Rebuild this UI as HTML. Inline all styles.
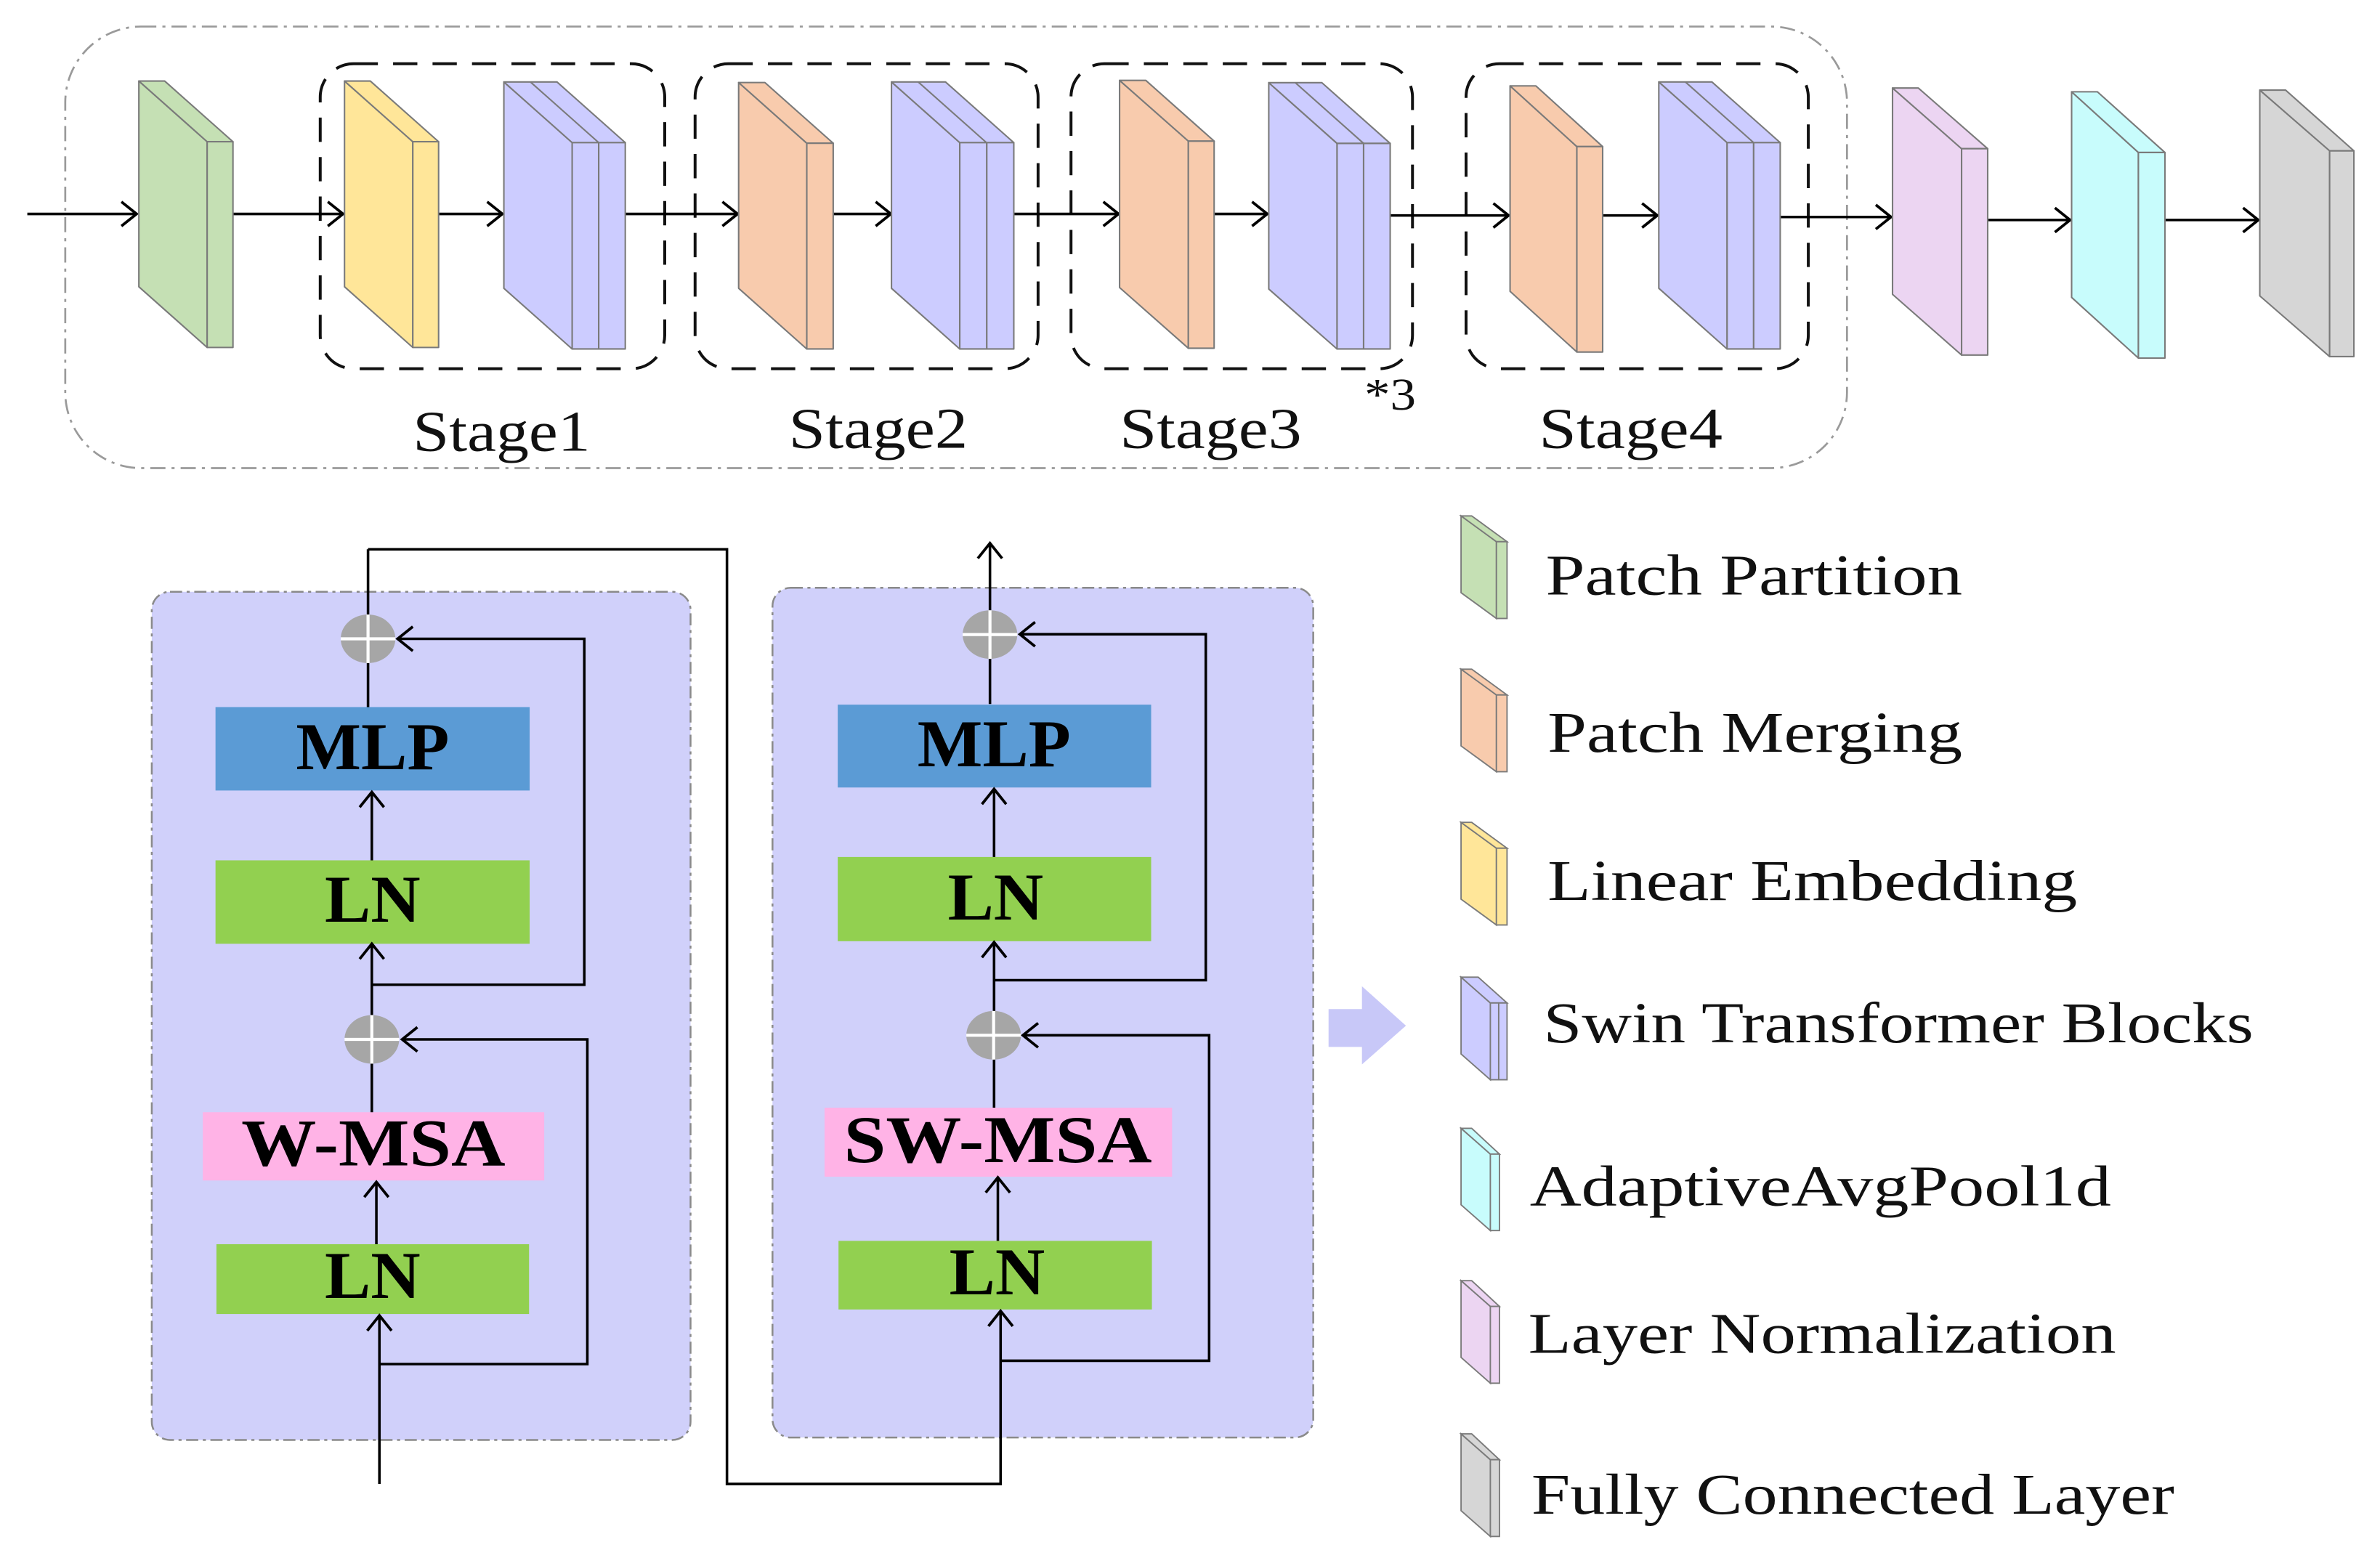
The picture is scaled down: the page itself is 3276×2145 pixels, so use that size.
<!DOCTYPE html>
<html><head><meta charset="utf-8"><style>
html,body{margin:0;padding:0;background:#fff;}
svg{display:block;}
</style></head><body>
<svg xmlns="http://www.w3.org/2000/svg" width="3276" height="2145" viewBox="0 0 1568.2 1026.8">
<defs>
<marker id="ah" markerUnits="userSpaceOnUse" markerWidth="24" markerHeight="24" refX="12" refY="12" orient="auto" viewBox="0 0 24 24">
<path d="M2,4 L12,12 L2,20" fill="none" stroke="#000" stroke-width="1.8"/>
</marker>
</defs>
<rect width="1568.2" height="1026.8" fill="#fff"/>

<rect x="43" y="17.5" width="1174" height="291" rx="50" fill="none" stroke="#9a9a9a" stroke-width="1.3" stroke-dasharray="10,4,2,4"/>
<g fill="none" stroke="#111" stroke-width="1.9" stroke-dasharray="16,10">
<rect x="211" y="42" width="227" height="201" rx="22"/>
<rect x="458" y="42" width="226" height="201" rx="22"/>
<rect x="705.7" y="42" width="225" height="201" rx="22"/>
<rect x="966" y="42" width="225.5" height="201" rx="22"/>
</g>

<g stroke="#000" stroke-width="1.7" fill="none" marker-end="url(#ah)">
<line x1="18" y1="141" x2="90" y2="141"/>
<line x1="153.5" y1="141" x2="226" y2="141"/>
<line x1="289" y1="141" x2="331" y2="141"/>
<line x1="412" y1="141" x2="486" y2="141"/>
<line x1="549" y1="141" x2="587" y2="141"/>
<line x1="668" y1="141" x2="737" y2="141"/>
<line x1="800" y1="141" x2="835" y2="141"/>
<line x1="916" y1="142" x2="994" y2="142"/>
<line x1="1056" y1="142" x2="1092" y2="142"/>
<line x1="1173" y1="143" x2="1246" y2="143"/>
<line x1="1310" y1="145" x2="1364" y2="145"/>
<line x1="1427" y1="145" x2="1488" y2="145"/>
</g>

<g stroke="#7a7a7a" stroke-width="1" stroke-linejoin="round">
<g fill="#c5e0b4">
<polygon points="91.5,53.4 136.5,93.4 136.5,229 91.5,189"/>
<polygon points="91.5,53.4 108.5,53.4 153.5,93.4 136.5,93.4"/>
<rect x="136.5" y="93.4" width="17" height="135.6"/>
</g>
<g fill="#ffe699">
<polygon points="227,53.4 272,93.4 272,229 227,189"/>
<polygon points="227,53.4 244,53.4 289,93.4 272,93.4"/>
<rect x="272" y="93.4" width="17" height="135.6"/>
</g>
<g fill="#ccccff">
<polygon points="332,54 377,94 377,230 332,190"/>
<polygon points="332,54 367,54 412,94 377,94"/>
<line x1="349.5" y1="54" x2="394.5" y2="94"/>
<rect x="377" y="94" width="17.5" height="136"/>
<rect x="394.5" y="94" width="17.5" height="136"/>
</g>
<g fill="#f8cbad">
<polygon points="486.7,54.4 531.6,94.4 531.6,230 486.7,190"/>
<polygon points="486.7,54.4 504,54.4 549,94.4 531.6,94.4"/>
<rect x="531.6" y="94.4" width="17.4" height="135.6"/>
</g>
<g fill="#ccccff">
<polygon points="587.4,54 632.4,94 632.4,230 587.4,190"/>
<polygon points="587.4,54 623,54 668,94 632.4,94"/>
<line x1="605" y1="54" x2="650" y2="94"/>
<rect x="632.4" y="94" width="17.8" height="136"/>
<rect x="650.2" y="94" width="17.8" height="136"/>
</g>
<g fill="#f8cbad">
<polygon points="737.7,53 783,93 783,229.5 737.7,189.5"/>
<polygon points="737.7,53 755,53 800,93 783,93"/>
<rect x="783" y="93" width="17" height="136.5"/>
</g>
<g fill="#ccccff">
<polygon points="836,54.5 881,94.5 881,230 836,190.5"/>
<polygon points="836,54.5 871,54.5 916,94.5 881,94.5"/>
<line x1="853.5" y1="54.5" x2="898.5" y2="94.5"/>
<rect x="881" y="94.5" width="17.5" height="135.5"/>
<rect x="898.5" y="94.5" width="17.5" height="135.5"/>
</g>
<g fill="#f8cbad">
<polygon points="995,56.6 1039,96.6 1039,232 995,192"/>
<polygon points="995,56.6 1012,56.6 1056,96.6 1039,96.6"/>
<rect x="1039" y="96.6" width="17" height="135.4"/>
</g>
<g fill="#ccccff">
<polygon points="1093,54 1138,94 1138,230 1093,190"/>
<polygon points="1093,54 1128,54 1173,94 1138,94"/>
<line x1="1110.5" y1="54" x2="1155.5" y2="94"/>
<rect x="1138" y="94" width="17.5" height="136"/>
<rect x="1155.5" y="94" width="17.5" height="136"/>
</g>
<g fill="#ecd5f2">
<polygon points="1247,58 1292.5,98 1292.5,234 1247,194"/>
<polygon points="1247,58 1264,58 1309.7,98 1292.5,98"/>
<rect x="1292.5" y="98" width="17.2" height="136"/>
</g>
<g fill="#c8fcfc">
<polygon points="1365,60.5 1409,100.5 1409,236 1365,196"/>
<polygon points="1365,60.5 1382,60.5 1426.5,100.5 1409,100.5"/>
<rect x="1409" y="100.5" width="17.5" height="135.5"/>
</g>
<g fill="#d6d6d6">
<polygon points="1489,59.4 1535,99.4 1535,235 1489,195"/>
<polygon points="1489,59.4 1506,59.4 1551,99.4 1535,99.4"/>
<rect x="1535" y="99.4" width="16" height="135.6"/>
</g>
</g>

<g font-family="'Liberation Serif', serif" font-size="38" fill="#111">
<text x="272" y="297" textLength="117" lengthAdjust="spacingAndGlyphs">Stage1</text>
<text x="519.7" y="295" textLength="118" lengthAdjust="spacingAndGlyphs">Stage2</text>
<text x="737.7" y="295" textLength="120" lengthAdjust="spacingAndGlyphs">Stage3</text>
<text x="1014" y="295" textLength="121" lengthAdjust="spacingAndGlyphs">Stage4</text>
<text x="899" y="270" font-size="30" textLength="34" lengthAdjust="spacingAndGlyphs">*3</text>
</g>

<rect x="100" y="390" width="355" height="559" rx="12" fill="#d0d0fa" stroke="#8a8a8a" stroke-width="1.2" stroke-dasharray="8,3,2,3"/>
<rect x="509" y="387.4" width="356.3" height="560" rx="12" fill="#d0d0fa" stroke="#8a8a8a" stroke-width="1.2" stroke-dasharray="8,3,2,3"/>

<rect x="142" y="466" width="207" height="55" fill="#5b9bd5"/>
<rect x="142" y="567" width="207" height="55" fill="#92d050"/>
<rect x="133.6" y="733" width="225" height="45" fill="#ffb3e6"/>
<rect x="142.6" y="820" width="206" height="46" fill="#92d050"/>
<rect x="552" y="464.4" width="206.5" height="54.6" fill="#5b9bd5"/>
<rect x="552" y="564.8" width="206.5" height="55.5" fill="#92d050"/>
<rect x="543.3" y="730" width="229" height="45.5" fill="#ffb3e6"/>
<rect x="552.5" y="817.8" width="206.5" height="45.2" fill="#92d050"/>

<g stroke="#000" stroke-width="1.7" fill="none">
<line x1="242.5" y1="362" x2="242.5" y2="466"/>
<polyline points="242.5,362 479,362 479,978 659.3,978 659.3,864" marker-end="url(#ah)"/>
<line x1="245" y1="567" x2="245" y2="522" marker-end="url(#ah)"/>
<line x1="245" y1="733" x2="245" y2="622" marker-end="url(#ah)"/>
<polyline points="245,649 385,649 385,421 262,421" marker-end="url(#ah)"/>
<line x1="248" y1="820" x2="248" y2="779" marker-end="url(#ah)"/>
<line x1="250" y1="978" x2="250" y2="867" marker-end="url(#ah)"/>
<polyline points="250,899 387,899 387,685 265,685" marker-end="url(#ah)"/>
<line x1="652.3" y1="464" x2="652.3" y2="358" marker-end="url(#ah)"/>
<line x1="655" y1="564.8" x2="655" y2="520" marker-end="url(#ah)"/>
<line x1="655" y1="730" x2="655" y2="621" marker-end="url(#ah)"/>
<polyline points="655,646 794.5,646 794.5,418 672,418" marker-end="url(#ah)"/>
<line x1="657.5" y1="817.8" x2="657.5" y2="776" marker-end="url(#ah)"/>
<polyline points="659.3,896.8 796.7,896.8 796.7,682.3 674,682.3" marker-end="url(#ah)"/>
</g>

<g>
<ellipse cx="242.5" cy="421" rx="18" ry="16" fill="#a6a6a6"/>
<line x1="224.5" y1="421" x2="260.5" y2="421" stroke="#fff" stroke-width="2"/>
<line x1="242.5" y1="405" x2="242.5" y2="437" stroke="#fff" stroke-width="2"/>
<ellipse cx="245" cy="685" rx="18" ry="16" fill="#a6a6a6"/>
<line x1="227" y1="685" x2="263" y2="685" stroke="#fff" stroke-width="2"/>
<line x1="245" y1="669" x2="245" y2="701" stroke="#fff" stroke-width="2"/>
<ellipse cx="652.3" cy="418.2" rx="18" ry="16" fill="#a6a6a6"/>
<line x1="634.3" y1="418.2" x2="670.3" y2="418.2" stroke="#fff" stroke-width="2"/>
<line x1="652.3" y1="402.2" x2="652.3" y2="434.2" stroke="#fff" stroke-width="2"/>
<ellipse cx="654.7" cy="682.3" rx="18" ry="16" fill="#a6a6a6"/>
<line x1="636.7" y1="682.3" x2="672.7" y2="682.3" stroke="#fff" stroke-width="2"/>
<line x1="654.7" y1="666.3" x2="654.7" y2="698.3" stroke="#fff" stroke-width="2"/>
</g>

<g font-family="'Liberation Serif', serif" font-weight="bold" font-size="44" fill="#000" text-anchor="middle">
<text x="245.5" y="507" textLength="101" lengthAdjust="spacingAndGlyphs">MLP</text>
<text x="245.5" y="607.5" textLength="63" lengthAdjust="spacingAndGlyphs">LN</text>
<text x="246" y="768" textLength="174" lengthAdjust="spacingAndGlyphs">W-MSA</text>
<text x="245.5" y="855.5" textLength="63" lengthAdjust="spacingAndGlyphs">LN</text>
<text x="655" y="505" textLength="101" lengthAdjust="spacingAndGlyphs">MLP</text>
<text x="656" y="606" textLength="63" lengthAdjust="spacingAndGlyphs">LN</text>
<text x="657.5" y="766" textLength="203" lengthAdjust="spacingAndGlyphs">SW-MSA</text>
<text x="657" y="853" textLength="63" lengthAdjust="spacingAndGlyphs">LN</text>
</g>

<polygon points="875.4,665 897.4,665 897.4,650 926.4,676 897.4,701.5 897.4,690 875.4,690" fill="#c8c8f8"/>

<g stroke="#7a7a7a" stroke-width="0.9">
<g fill="#c5e0b4"><polygon points="962.7,340 986,357 986,407.6 962.7,390.6"/><polygon points="962.7,340 969.7,340 993,357 986,357"/><rect x="986" y="357" width="7" height="50.6"/></g>
<g fill="#f8cbad"><polygon points="962.7,441 986,458 986,508.6 962.7,491.6"/><polygon points="962.7,441 969.7,441 993,458 986,458"/><rect x="986" y="458" width="7" height="50.6"/></g>
<g fill="#ffe699"><polygon points="962.7,542 986,559 986,609.6 962.7,592.6"/><polygon points="962.7,542 969.7,542 993,559 986,559"/><rect x="986" y="559" width="7" height="50.6"/></g>
<g fill="#ccccff"><polygon points="962.7,644 982,661 982,711.6 962.7,694.6"/><polygon points="962.7,644 974,644 993,661 982,661"/><rect x="982" y="661" width="5.5" height="50.6"/><rect x="987.5" y="661" width="5.5" height="50.6"/></g>
<g fill="#c8fcfc"><polygon points="962.7,743.6 982,760.6 982,811 962.7,794"/><polygon points="962.7,743.6 969.7,743.6 988,760.6 982,760.6"/><rect x="982" y="760.6" width="6" height="50.4"/></g>
<g fill="#ecd5f2"><polygon points="962.7,844 982,861 982,911.6 962.7,894.6"/><polygon points="962.7,844 969.7,844 988,861 982,861"/><rect x="982" y="861" width="6" height="50.6"/></g>
<g fill="#d6d6d6"><polygon points="962.7,945 982,962 982,1012.6 962.7,995.6"/><polygon points="962.7,945 969.7,945 988,962 982,962"/><rect x="982" y="962" width="6" height="50.6"/></g>
</g>

<g font-family="'Liberation Serif', serif" font-size="38" fill="#111">
<text x="1018.5" y="391.7" textLength="274.5" lengthAdjust="spacingAndGlyphs">Patch Partition</text>
<text x="1019.7" y="495.5" textLength="273.3" lengthAdjust="spacingAndGlyphs">Patch Merging</text>
<text x="1019.7" y="593" textLength="349" lengthAdjust="spacingAndGlyphs">Linear Embedding</text>
<text x="1017" y="687" textLength="467.8" lengthAdjust="spacingAndGlyphs">Swin Transformer Blocks</text>
<text x="1008" y="794.4" textLength="383" lengthAdjust="spacingAndGlyphs">AdaptiveAvgPool1d</text>
<text x="1007" y="891.5" textLength="387.3" lengthAdjust="spacingAndGlyphs">Layer Normalization</text>
<text x="1009" y="997.5" textLength="423.7" lengthAdjust="spacingAndGlyphs">Fully Connected Layer</text>
</g>
</svg>
</body></html>
